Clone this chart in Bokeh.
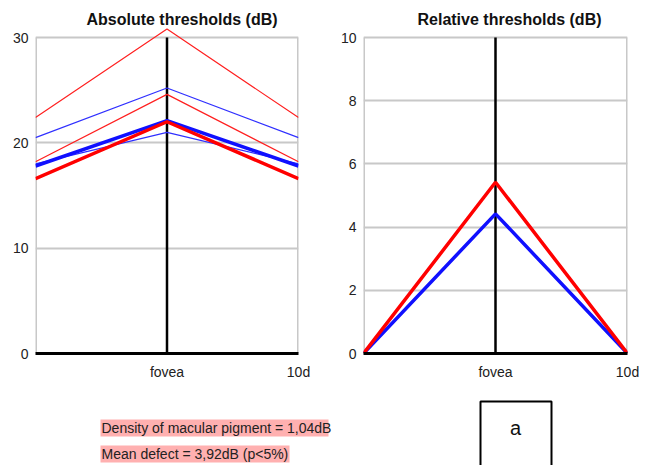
from bokeh.plotting import figure
from bokeh.models import FixedTicker, Range1d
from bokeh.core.properties import value
from bokeh.layouts import column, row
from bokeh.embed import file_html
from bokeh.resources import INLINE

# ---- data ----
positions = [-10, 0, 10]
tick_labels = {0: "fovea", 10: "10d"}

abs_red_thin_1 = [22.4, 30.8, 22.4]
abs_red_thin_2 = [18.2, 24.6, 18.2]
abs_red_thick = [16.6, 22.0, 16.6]
abs_blue_thin_1 = [20.5, 25.2, 20.5]
abs_blue_thin_2 = [18.0, 21.0, 18.0]
abs_blue_thick = [17.8, 22.1, 17.8]

rel_red = [0.0, 5.42, 0.0]
rel_blue = [0.0, 4.42, 0.0]

abs_yticks = [0, 10, 20, 30]
rel_yticks = [0, 2, 4, 6, 8, 10]

titles = ["Absolute thresholds (dB)", "Relative thresholds (dB)"]
info_lines = ["Density of macular pigment = 1,04dB", "Mean defect = 3,92dB  (p<5%)"]
box_label = "a"

FONT = "Liberation Sans"
GRID = "#c8c8c8"
FRAME_H = 342


def panel(title, ymax, yticks, fw, bl, br, toff):
    top = ymax * FRAME_H / 316.0
    p = figure(frame_width=fw, frame_height=FRAME_H, title=None,
               x_range=Range1d(-10, 10), y_range=Range1d(0, top),
               output_backend="svg", toolbar_location=None,
               min_border_left=bl, min_border_right=br, min_border_top=11, min_border_bottom=30)
    p.outline_line_color = None
    p.xgrid.visible = False
    p.ygrid.ticker = FixedTicker(ticks=yticks)
    p.ygrid.grid_line_color = GRID
    p.ygrid.grid_line_width = 2
    p.yaxis.ticker = FixedTicker(ticks=yticks)
    p.xaxis.ticker = FixedTicker(ticks=[0, 10])
    p.xaxis.major_label_overrides = tick_labels
    for ax in (p.xaxis[0], p.yaxis[0]):
        ax.major_tick_line_color = None
        ax.minor_tick_line_color = None
        ax.major_tick_out = 0
        ax.major_tick_in = 0
        ax.minor_tick_out = 0
        ax.major_label_text_font = FONT
        ax.major_label_text_font_size = "14px"
        ax.major_label_text_color = "#222222"
    p.yaxis.axis_line_color = None
    p.yaxis.major_label_standoff = 7
    p.xaxis.axis_line_color = "black"
    p.xaxis.axis_line_width = 3
    p.xaxis.major_label_standoff = 10
    # frame border (left / right) and central fovea line, from 0 to the top tick
    p.segment(x0=[-10, 10], y0=[0, 0], x1=[-10, 10], y1=[ymax, ymax],
              line_color=GRID, line_width=3)
    p.segment(x0=[0], y0=[0], x1=[0], y1=[ymax], line_color="black", line_width=2.5)
    # title
    p.text(x=[0], y=[ymax + (top - ymax) * 0.7], text=[title], x_offset=toff,
           text_font=value(FONT), text_font_size="16px", text_font_style="bold",
           text_align="center", text_baseline="middle", text_color="#111111")
    return p


p1 = panel(titles[0], 30, abs_yticks, 263, 35, 15, 15)
p1.line(positions, abs_red_thin_1, line_color="#ff2020", line_width=1.2)
p1.line(positions, abs_blue_thin_1, line_color="#3030ff", line_width=1.2)
p1.line(positions, abs_red_thin_2, line_color="#ff2020", line_width=1.2)
p1.line(positions, abs_blue_thin_2, line_color="#3030ff", line_width=1.2)
p1.line(positions, abs_blue_thick, line_color="#1010ff", line_width=3.5)
p1.line(positions, abs_red_thick, line_color="#ff0000", line_width=3.5)

p2 = panel(titles[1], 10, rel_yticks, 264, 50, 20, 14)
p2.line(positions, rel_blue, line_color="#1010ff", line_width=3.5)
p2.line(positions, rel_red, line_color="#ff0000", line_width=3.5)

# bottom annotation strip (picture coordinates: x 0..647, y 383..465)
p3 = figure(width=647, height=82, x_range=Range1d(0, 647), y_range=Range1d(465, 383),
            output_backend="svg", toolbar_location=None, title=None,
            min_border=0, outline_line_color=None)
p3.axis.visible = False
p3.grid.visible = False
p3.quad(left=[100, 100], right=[328, 289], top=[419, 445], bottom=[436, 462],
        fill_color="#ffb0b0", line_color=None)
p3.text(x=[101, 101], y=[427.5, 453.5], text=info_lines, text_font=value(FONT),
        text_font_size="14px", text_baseline="middle", text_color="#222222")
p3.quad(left=[480], right=[551], top=[401], bottom=[475], fill_color=None,
        line_color="black", line_width=2)
p3.text(x=[515], y=[427], text=[box_label], text_font=value(FONT), text_font_size="20px",
        text_align="center", text_baseline="middle", text_color="#111111")

layout = column(row(p1, p2), p3)
open("out.html", "w").write(file_html(layout, INLINE))
